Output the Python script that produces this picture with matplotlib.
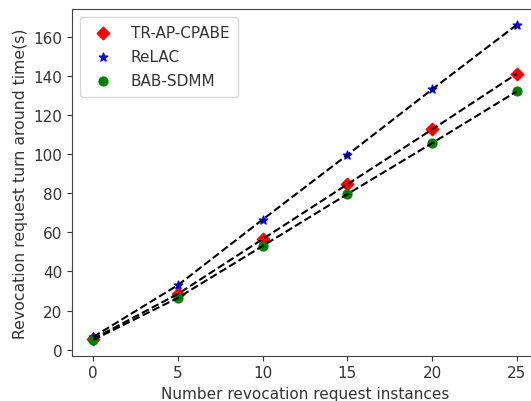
import matplotlib
matplotlib.use("Agg")
import matplotlib.pyplot as plt

x = [0, 5, 10, 15, 20, 25]
tr_ap_cpabe = [5.5, 28.5, 56.5, 84.5, 112.5, 141]
relac = [6.5, 33, 66.5, 99.5, 133, 166]
bab_sdmm = [5, 26.5, 53, 79.5, 105.5, 132]

txt = '#333333'
plt.rcParams.update({'font.size': 11, 'text.color': txt, 'axes.labelcolor': txt,
                     'xtick.color': txt, 'ytick.color': txt, 'axes.edgecolor': '#444444'})

fig = plt.figure(figsize=(5.31, 4.02), dpi=100)
ax = fig.add_axes([0.1356, 0.1127, 0.8776, 0.8624])

ax.scatter(x, tr_ap_cpabe, marker='D', color='red', s=40, label='TR-AP-CPABE', zorder=2)
ax.scatter(x, relac, marker='*', color='blue', s=40, label='ReLAC', zorder=2)
ax.scatter(x, bab_sdmm, marker='o', color='green', s=40, label='BAB-SDMM', zorder=2)
for y in (tr_ap_cpabe, relac, bab_sdmm):
    ax.plot(x, y, 'k--', zorder=3)

ax.set_xlabel('Number revocation request instances')
ax.set_ylabel('Revocation request turn around time(s)', fontsize=11.3)
ax.set_xticks([0, 5, 10, 15, 20, 25])
ax.set_yticks(range(0, 161, 20))
ax.legend(loc='upper left', borderpad=0.55, labelspacing=0.6)

fig.savefig('out.png', dpi=100)
